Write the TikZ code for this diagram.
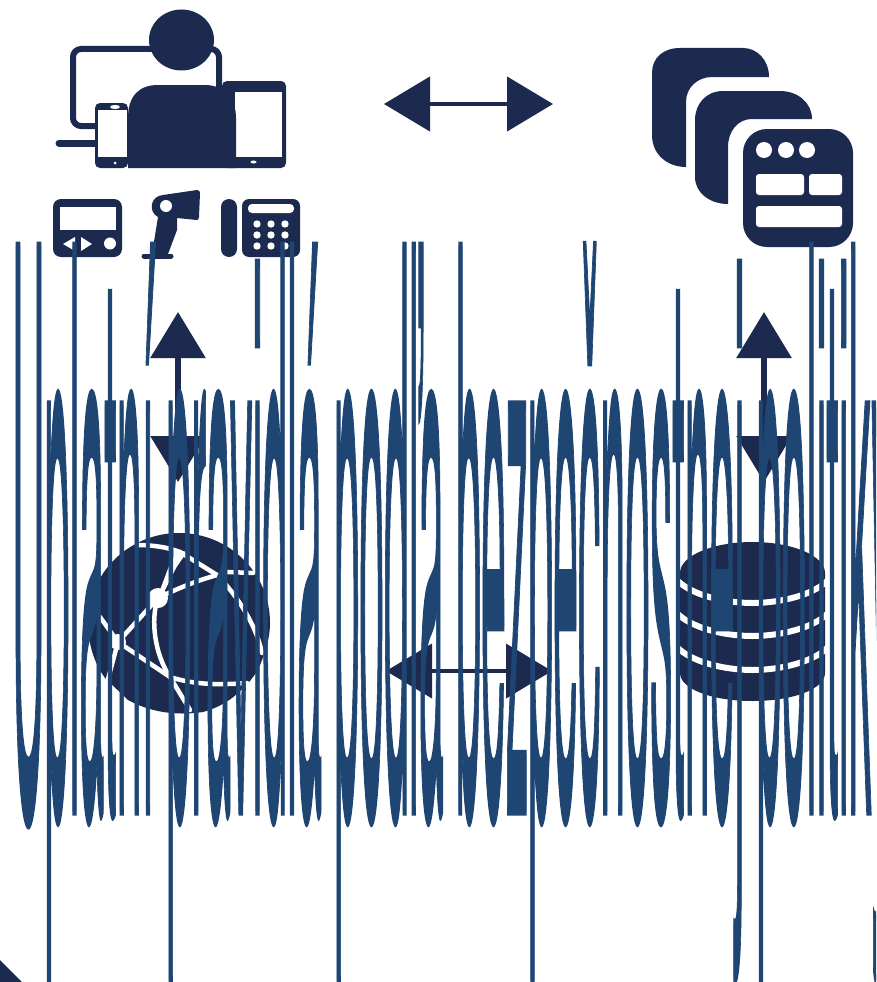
\documentclass[tikz,border=0pt]{standalone}
\usepackage{fontspec}
\setmainfont[FakeBold=1.2]{TeX Gyre Heros}
\usepackage{xcolor}
\usepackage{tikz}
\usetikzlibrary{arrows.meta}
\definecolor{iconnavy}{HTML}{1B2A4E}
\definecolor{textblue}{HTML}{1F4573}
\tikzset{
    icon/.style={fill=iconnavy, draw=none},
    hole/.style={fill=white, draw=none},
    wire/.style={draw=white, line width=4.5pt, line cap=round},
    link/.style={draw=iconnavy, {Triangle[length=46pt,width=54pt]}-{Triangle[length=46pt,width=54pt]}}
}

\begin{document}
\begin{tikzpicture}[x=1pt, y=-1pt]

    \clip (0,0) rectangle (876,982);
    \fill[white] (0,0) rectangle (876,982);

    \coordinate (usersE) at (384,104);
    \coordinate (appsW) at (553,104);
    \coordinate (usersS) at (178,312);
    \coordinate (netN) at (178,482);
    \coordinate (appsS) at (764,312);
    \coordinate (dataN) at (764,482);
    \coordinate (netE) at (386,671);
    \coordinate (dataW) at (552,671);

    % user with devices
    \draw[draw=iconnavy, line width=6pt, rounded corners=8pt] (73,49) rectangle (219,126);
    \draw[draw=iconnavy, line width=7pt, line cap=round] (59,143) -- (100,143);
    \fill[icon, rounded corners=5pt] (95,103) rectangle (128,168);
    \fill[hole] (98,110) rectangle (127,157);
    \fill[hole] (115,107) ellipse (5 and 2);
    \fill[hole] (115,163) circle (1.5);
    \fill[icon, rounded corners=5pt] (222,81) rectangle (286,168);
    \fill[hole] (235,92) rectangle (282,157);
    \fill[hole] (253.5,162) ellipse (3 and 1.5);
    \fill[icon] (128,168) -- (128,118) .. controls (128,95) and (140,85) .. (158,85)
        -- (205,85) .. controls (225,85) and (236,100) .. (236,118) -- (236,168) -- cycle;
    \fill[icon] (181.5,40) ellipse (32.5 and 30.5);

    % handheld
    \fill[icon, rounded corners=8pt] (53,199) rectangle (122,257);
    \fill[hole] (60,207) rectangle (116,230);
    \fill[hole] (63,244) -- (75,237) -- (75,251) -- cycle;
    \fill[hole] (81,237) -- (92,244) -- (81,251) -- cycle;
    \fill[hole] (110,243.5) circle (6);

    % scanner
    \fill[icon] (163,195) -- (197,190) .. controls (199,190) and (200,191) .. (200,193)
        -- (199,217) .. controls (199,219) and (198,220) .. (197,220) -- (177,218) -- (177,230)
        -- (168,254) -- (152,254) -- (158,217) .. controls (148,212) and (150,196) .. (163,195) -- cycle;
    \draw[draw=iconnavy, line width=5pt, line cap=round] (144,256) -- (171,256);
    \fill[hole] (166,206) circle (6);

    % desk phone
    \fill[icon, rounded corners=8pt] (221,199) rectangle (237,257);
    \fill[icon, rounded corners=7pt] (242,199) rectangle (300,257);
    \fill[hole, rounded corners=4pt] (248,204) rectangle (294,213);
    \foreach \keyx in {257,271,285}
        \foreach \keyy in {224,235,246}
            \fill[hole] (\keyx,\keyy) circle (3.7);

    % application windows
    \fill[icon] (769,77) .. controls (769,60) and (757,48) .. (743,48) -- (680,48)
        .. controls (663,48) and (652,58) .. (652,73) -- (652,135)
        .. controls (652,155) and (668,167) .. (686,167) -- (686,102)
        .. controls (686,88) and (697,77) .. (712,77) -- cycle;
    \fill[icon] (812,119) .. controls (812,103) and (798,91) .. (780,91) -- (723,91)
        .. controls (706,91) and (695,104) .. (695,120) -- (695,177)
        .. controls (695,193) and (710,204) .. (728,204) -- (728,147)
        .. controls (728,131) and (738,119) .. (752,119) -- cycle;
    \fill[icon, rounded corners=24pt] (743,129) rectangle (853,247);
    \foreach \dotx in {764,786,807}
        \fill[hole] (\dotx,150) circle (8);
    \fill[hole, rounded corners=3pt] (756,174) rectangle (804,195);
    \fill[hole, rounded corners=3pt] (809,174) rectangle (842,195);
    \fill[hole, rounded corners=3pt] (756,206) rectangle (842,227);

    % network globe
    \fill[icon] (179,533) .. controls (229,533) and (270,573) .. (270,623)
        .. controls (270,637) and (266,650) .. (262,660)
        .. controls (258,672) and (250,682) .. (243,688)
        .. controls (232,700) and (218,708) .. (203,712)
        .. controls (175,716) and (150,712) .. (128,700)
        -- (105,678) .. controls (94,663) and (88,643) .. (88,623)
        .. controls (88,573) and (129,533) .. (179,533) -- cycle;
    \fill[hole] (158,598) circle (10);
    \fill[hole] (118,642) circle (8);
    \draw[wire] (137,545) .. controls (152,545) and (167,547) .. (180,552);
    \fill[hole] (174,549) -- (187,552) -- (176,568) -- (164,592) -- (160,590) -- (169,566) -- cycle;
    \draw[wire] (180,552) -- (217,575);
    \draw[wire] (217,575) .. controls (200,580) and (185,585) .. (158,598);
    \draw[wire] (227,572) -- (253,573);
    \draw[wire] (217,575) .. controls (232,590) and (255,620) .. (262,653);
    \draw[wire] (158,598) -- (118,642);
    \draw[wire] (100,617) -- (118,642);
    \draw[wire] (118,642) -- (170,677);
    \draw[wire] (118,642) -- (107,683);
    \draw[wire] (158,598) .. controls (150,620) and (155,655) .. (170,677);
    \draw[wire] (170,677) .. controls (195,685) and (220,685) .. (247,683);
    \draw[wire] (170,677) -- (190,710);

    % database
    \fill[icon] (680,573) .. controls (680,556) and (712,542) .. (752.5,542)
        .. controls (793,542) and (825,556) .. (825,573) -- (825,673)
        .. controls (825,689) and (793,701) .. (752.5,701)
        .. controls (712,701) and (680,689) .. (680,673) -- cycle;
    \foreach \rimy in {579,612,646}
        \draw[draw=white, line width=6pt] (676,\rimy) .. controls (690,\rimy+16) and (725,\rimy+24) .. (752.5,\rimy+24)
            .. controls (780,\rimy+24) and (815,\rimy+16) .. (829,\rimy);

    % arrows between the parts
    \draw[link, line width=4.5pt] (usersE) -- (appsW);
    \draw[link, line width=6pt] (usersS) -- (netN);
    \draw[link, line width=6pt] (appsS) -- (dataN);
    \draw[link, line width=4pt] (netE) -- (dataW);

    \fill[icon] (0,960) -- (22,982) -- (0,982) -- cycle;

    \node[anchor=base west, inner sep=0pt, xscale=0.86, yscale=14.9, text=textblue, font=\fontsize{52}{60}\selectfont] (policy) at (12,811) {Uplatní pravidlá podľa bezpečnostnej politiky};

\end{tikzpicture}
\end{document}
